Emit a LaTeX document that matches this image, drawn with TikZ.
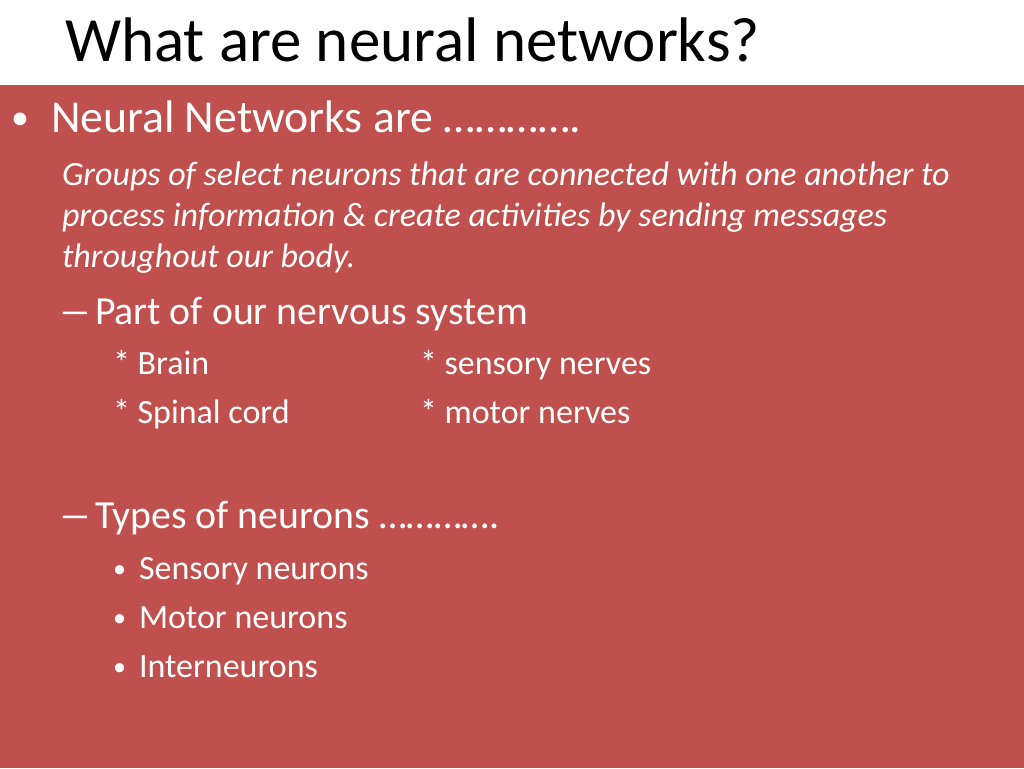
\documentclass[tikz,border=0pt]{standalone}
\usepackage{fontspec}
\setmainfont{Carlito}
\definecolor{slidered}{HTML}{C0504D}
\tikzset{
  txt/.style={anchor=base west, inner sep=0pt, outer sep=0pt, text=white},
  ttl/.style={anchor=base west, inner sep=0pt, outer sep=0pt, text=black, font=\fontsize{63}{70}\selectfont},
  lvone/.style={txt, font=\fontsize{45.7}{52}\selectfont},
  bulone/.style={txt, font=\fontsize{36}{42}\selectfont},
  ital/.style={txt, font=\fontsize{34}{40}\selectfont\itshape},
  lvtwo/.style={txt, font=\fontsize{39.8}{46}\selectfont},
  lvthree/.style={txt, font=\fontsize{34}{40}\selectfont},
  bulthree/.style={txt, font=\fontsize{26}{30}\selectfont},
}
\begin{document}
\begin{tikzpicture}[x=1pt,y=-1pt]
\useasboundingbox (0,0) rectangle (1024,768);
\fill[white] (0,0) rectangle (1024,768);
\fill[slidered] (0,85) rectangle (1024,768);
\node[ttl] (title) at (65,61) {What are neural networks?};
\node[bulone] (b1) at (11,129) {•};
\node[lvone] (nn) at (51,132) {Neural Networks are ………….};
\node[ital] (g1) at (62,185) {Groups of select neurons that are connected with one another to};
\node[ital] (g2) at (62,226) {process information \& create activities by sending messages};
\node[ital] (g3) at (62,267) {throughout our body.};
\node[lvtwo] (d1) at (58,324) {\scalebox{1.7}[1]{–}};
\node[lvtwo] (part) at (95,324) {Part of our nervous system};
\node[lvthree] (brain) at (113,374) {* Brain};
\node[lvthree] (spinal) at (113,423) {* Spinal cord};
\node[lvthree] (sens) at (420,374) {* sensory nerves};
\node[lvthree] (motor) at (420,423) {* motor nerves};
\node[lvtwo] (d2) at (58,528) {\scalebox{1.7}[1]{–}};
\node[lvtwo] (types) at (95,528) {Types of neurons ………….};
\node[bulthree] (b2) at (113,577) {•};
\node[lvthree] (sn) at (139,579) {Sensory neurons};
\node[bulthree] (b3) at (113,626) {•};
\node[lvthree] (mn) at (139,628) {Motor neurons};
\node[bulthree] (b4) at (113,675) {•};
\node[lvthree] (in) at (139,677) {Interneurons};
\end{tikzpicture}
\end{document}
